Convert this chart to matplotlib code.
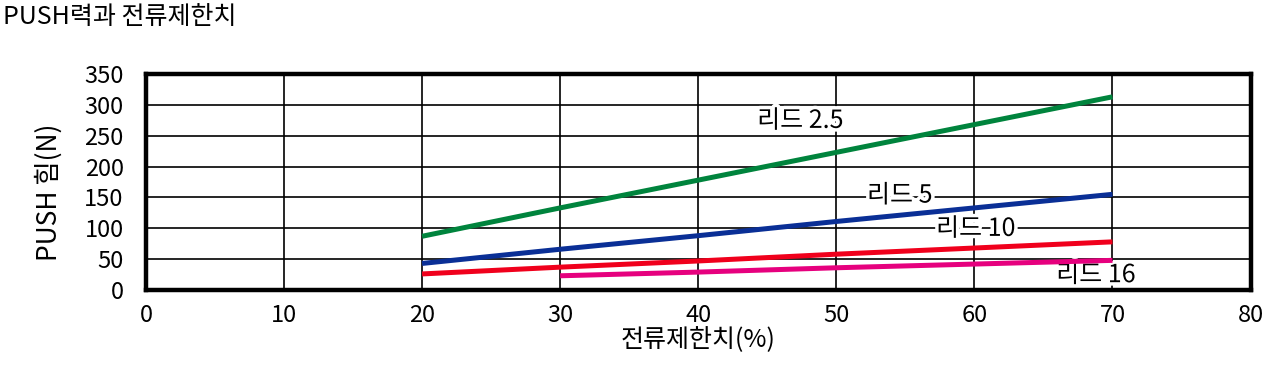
import matplotlib.pyplot as plt
import matplotlib.patheffects as pe

plt.rcParams['font.family'] = ['Noto Sans CJK KR', 'DejaVu Sans']

# current limit (%) and PUSH force (N) per lead
x_main = [20, 30, 40, 50, 60, 70]
lead_25 = [87, 133, 178, 223, 268, 313]
lead_5 = [43, 66, 88, 111, 133, 155]
lead_10 = [26, 37, 47, 58, 68, 78]
x_16 = [30, 40, 50, 60, 70]
lead_16 = [23, 29, 36, 42, 48]

fig = plt.figure(figsize=(12.8, 3.68), dpi=100)
ax = fig.add_axes([0.114, 0.212, 0.863, 0.587])

ax.plot(x_main, lead_25, color='#00843d', lw=3.6, solid_capstyle='butt', zorder=3)
ax.plot(x_main, lead_5, color='#0a2f96', lw=3.6, solid_capstyle='butt', zorder=3)
ax.plot(x_main, lead_10, color='#f0001c', lw=3.6, solid_capstyle='butt', zorder=3)
ax.plot(x_16, lead_16, color='#e6007e', lw=3.6, solid_capstyle='butt', zorder=3)

halo = [pe.withStroke(linewidth=5, foreground='white')]
for txt, x, y in [('리드 2.5', 47.4, 274), ('리드 5', 54.6, 153),
                  ('리드 10', 60.1, 99), ('리드 16', 68.8, 24)]:
    ax.text(x, y, txt, fontsize=18, ha='center', va='center', path_effects=halo, zorder=2)

ax.set_xlim(0, 80)
ax.set_ylim(0, 350)
ax.set_xticks(range(0, 81, 10))
ax.set_yticks(range(0, 351, 50))
ax.grid(True, color='black', lw=1.2)
ax.set_axisbelow(True)
ax.tick_params(length=0, labelsize=17)
ax.tick_params(axis='y', pad=16)
ax.tick_params(axis='x', pad=10)
for s in ax.spines.values():
    s.set_linewidth(3.2)
    s.set_zorder(4)

ax.set_xlabel('전류제한치(%)', fontsize=18, labelpad=0)
ax.set_ylabel('PUSH 힘(N)', fontsize=19, labelpad=2)
ax.yaxis.set_label_coords(-0.075, 0.45)
fig.text(0.002, 0.99, 'PUSH력과 전류제한치', fontsize=18, ha='left', va='top')

fig.savefig('out.png', dpi=100)
